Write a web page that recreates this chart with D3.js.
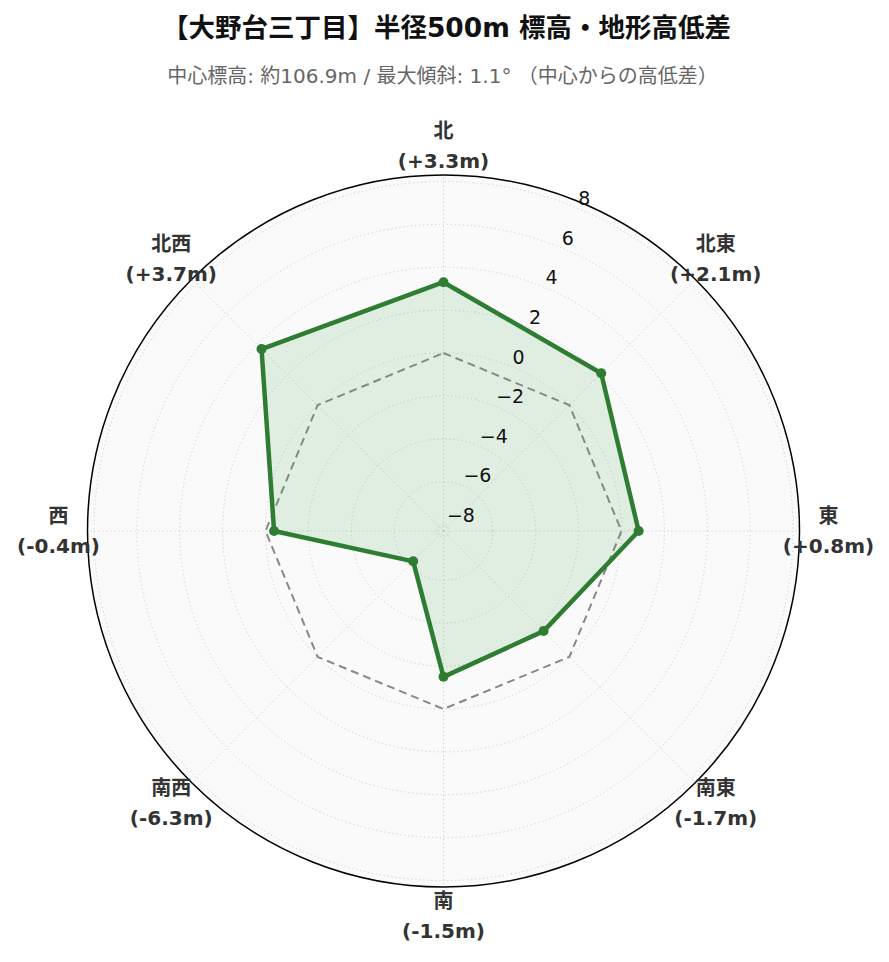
<!DOCTYPE html>
<html>
<head>
<meta charset="utf-8">
<script src="https://cdn.jsdelivr.net/npm/d3@7"></script>
<style>
  body { margin: 0; background: #fff; }
  text { font-family: "DejaVu Sans", "Noto Sans CJK JP", sans-serif; }
</style>
</head>
<body>
<div id="container"></div>
<script>
// data we work with
let directions = ["北", "北東", "東", "南東", "南", "南西", "西", "北西"];
let diffs = [3.3, 2.1, 0.8, -1.7, -1.5, -6.3, -0.4, 3.7];
let baseline = [0, 0, 0, 0, 0, 0, 0, 0];
let rTicks = [-8, -6, -4, -2, 0, 2, 4, 6, 8];
let rDomain = [-8.3, 8.3];

let title = "【大野台三丁目】半径500m 標高・地形高低差";
let subtitle = "中心標高: 約106.9m / 最大傾斜: 1.1° （中心からの高低差）";

// global sizes
let w = 889;
let h = 962;
let cx = 443.5;
let cy = 531;
let R = 356;

let viz = d3.select("#container")
  .append("svg")
    .attr("width", w)
    .attr("height", h)
;

// scales
let angle = d3.scalePoint().domain(directions).range([0, 2 * Math.PI * 7 / 8]);
let rScale = d3.scaleLinear().domain(rDomain).range([0, R]);

function px(a, r) { return cx + r * Math.sin(a); }
function py(a, r) { return cy - r * Math.cos(a); }

// titles
viz.append("text")
  .attr("x", w / 2 + 2).attr("y", 37)
  .attr("text-anchor", "middle")
  .attr("font-size", 26.5)
  .attr("font-weight", "bold")
  .attr("fill", "#111")
  .text(title);

viz.append("text")
  .attr("x", w / 2 - 2).attr("y", 83)
  .attr("text-anchor", "middle")
  .attr("font-size", 20)
  .attr("fill", "#666")
  .text(subtitle);

let polar = viz.append("g");

// background
polar.append("circle")
  .attr("cx", cx).attr("cy", cy).attr("r", R)
  .attr("fill", "#fafafa");

// grid circles
polar.selectAll(".rgrid").data(rTicks).enter()
  .append("circle")
    .attr("class", "rgrid")
    .attr("cx", cx).attr("cy", cy)
    .attr("r", d => rScale(d))
    .attr("fill", "none")
    .attr("stroke", "#cccccc")
    .attr("stroke-width", 1)
    .attr("stroke-dasharray", "1.2,2.8");

// spokes
polar.selectAll(".agrid").data(directions).enter()
  .append("line")
    .attr("class", "agrid")
    .attr("x1", cx).attr("y1", cy)
    .attr("x2", d => px(angle(d), R))
    .attr("y2", d => py(angle(d), R))
    .attr("stroke", "#cccccc")
    .attr("stroke-width", 1)
    .attr("stroke-dasharray", "1.2,2.8");

// zero reference
let line = d3.lineRadial()
  .angle((d, i) => angle(directions[i]))
  .radius(d => rScale(d))
  .curve(d3.curveLinearClosed);

polar.append("path")
  .attr("transform", "translate(" + cx + "," + cy + ")")
  .attr("d", line(baseline))
  .attr("fill", "none")
  .attr("stroke", "#888888")
  .attr("stroke-width", 2)
  .attr("stroke-dasharray", "8,5");

// data polygon
polar.append("path")
  .attr("transform", "translate(" + cx + "," + cy + ")")
  .attr("d", line(diffs))
  .attr("fill", "#4caf50")
  .attr("fill-opacity", 0.15)
  .attr("stroke", "#2e7d32")
  .attr("stroke-width", 4.5)
  .attr("stroke-linejoin", "round");

polar.selectAll(".pt").data(diffs).enter()
  .append("circle")
    .attr("class", "pt")
    .attr("cx", (d, i) => px(angle(directions[i]), rScale(d)))
    .attr("cy", (d, i) => py(angle(directions[i]), rScale(d)))
    .attr("r", 5)
    .attr("fill", "#2e7d32");

// outer spine
polar.append("circle")
  .attr("cx", cx).attr("cy", cy).attr("r", R)
  .attr("fill", "none")
  .attr("stroke", "#000")
  .attr("stroke-width", 1.5);

// radial tick labels at 22.5deg
let labAngle = Math.PI / 8;
polar.selectAll(".rlab").data(rTicks).enter()
  .append("text")
    .attr("class", "rlab")
    .attr("x", d => px(labAngle, rScale(d)) + 1)
    .attr("y", d => py(labAngle, rScale(d)) - 3)
    .attr("font-size", 19)
    .attr("fill", "#111")
    .text(d => d3.format("")(d).replace("-", "\u2212"));

// direction labels
let labR = 385;
let dirLabels = polar.selectAll(".dlab").data(directions).enter()
  .append("text")
    .attr("class", "dlab")
    .attr("text-anchor", "middle")
    .attr("font-size", 20)
    .attr("font-weight", "bold")
    .attr("fill", "#333");

dirLabels.append("tspan")
  .attr("x", d => px(angle(d), labR))
  .attr("y", d => py(angle(d), labR) - 8)
  .text(d => d);

dirLabels.append("tspan")
  .attr("x", d => px(angle(d), labR))
  .attr("y", d => py(angle(d), labR) + 22)
  .text((d, i) => "(" + (diffs[i] >= 0 ? "+" : "-") + Math.abs(diffs[i]).toFixed(1) + "m)");
</script>
</body>
</html>
